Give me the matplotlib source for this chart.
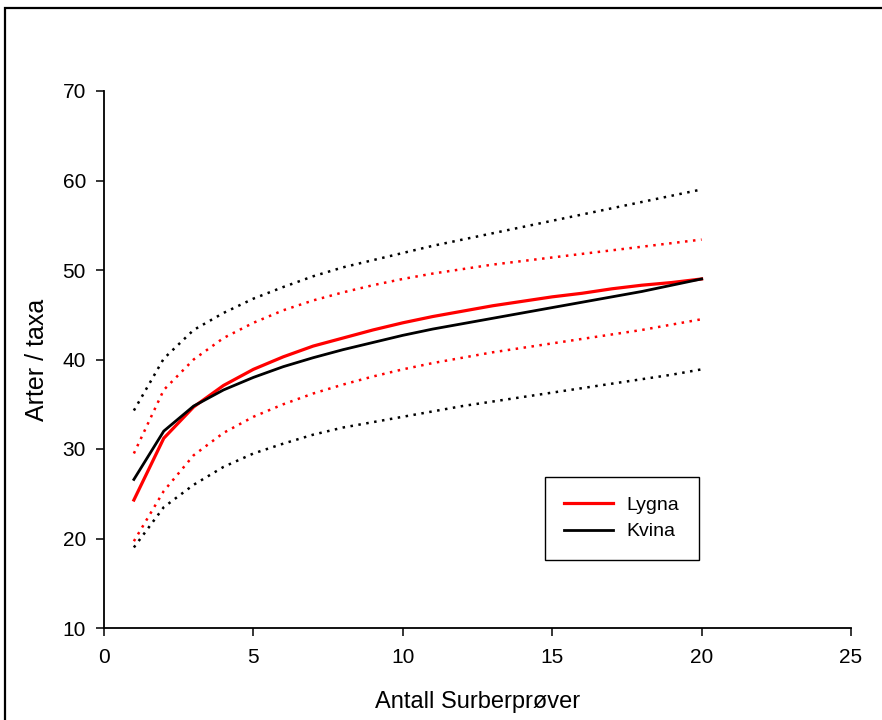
import matplotlib
matplotlib.use("Agg")
import matplotlib.pyplot as plt
from matplotlib.patches import Rectangle

plt.rcParams['font.family'] = ['Liberation Sans', 'DejaVu Sans']

samples = list(range(1, 21))

lygna = [24.3, 31.2, 34.7, 37.1, 38.9, 40.3, 41.5, 42.4, 43.3, 44.1,
         44.8, 45.4, 46.0, 46.5, 47.0, 47.4, 47.9, 48.3, 48.6, 49.0]
lygna_upper = [29.5, 36.6, 40.0, 42.4, 44.1, 45.5, 46.6, 47.5, 48.3, 49.0,
               49.6, 50.1, 50.6, 51.0, 51.4, 51.8, 52.2, 52.6, 53.0, 53.4]
lygna_lower = [19.7, 25.3, 29.3, 31.8, 33.6, 35.0, 36.2, 37.2, 38.1, 38.9,
               39.6, 40.2, 40.8, 41.3, 41.8, 42.3, 42.8, 43.3, 43.9, 44.5]

kvina = [26.6, 32.0, 34.8, 36.6, 38.0, 39.2, 40.2, 41.1, 41.9, 42.7,
         43.4, 44.0, 44.6, 45.2, 45.8, 46.4, 47.0, 47.6, 48.3, 49.0]
kvina_upper = [34.3, 40.1, 43.3, 45.2, 46.8, 48.1, 49.3, 50.3, 51.1, 51.9,
               52.7, 53.4, 54.1, 54.8, 55.5, 56.2, 56.9, 57.6, 58.3, 59.0]
kvina_lower = [19.0, 23.5, 26.0, 28.0, 29.5, 30.6, 31.6, 32.4, 33.0, 33.6,
               34.2, 34.8, 35.3, 35.8, 36.3, 36.8, 37.3, 37.8, 38.3, 38.9]

fig = plt.figure(figsize=(8.82, 7.2), dpi=100)
ax = fig.add_axes([104 / 882, 1 - 628 / 720, 747 / 882, 537 / 720])

dot = (0, (1, 2.2))
ax.plot(samples, kvina_upper, color='black', lw=1.8, ls=dot)
ax.plot(samples, kvina_lower, color='black', lw=1.8, ls=dot)
ax.plot(samples, lygna_upper, color='red', lw=1.8, ls=dot)
ax.plot(samples, lygna_lower, color='red', lw=1.8, ls=dot)
ax.plot(samples, lygna, color='red', lw=2.3, label='Lygna')
ax.plot(samples, kvina, color='black', lw=2.0, label='Kvina')

ax.set_xlim(0, 25)
ax.set_ylim(10, 70)
ax.set_xticks([0, 5, 10, 15, 20, 25])
ax.set_yticks([10, 20, 30, 40, 50, 60, 70])
ax.spines['top'].set_visible(False)
ax.spines['right'].set_visible(False)
ax.spines['left'].set_linewidth(1.3)
ax.spines['bottom'].set_linewidth(1.3)
ax.tick_params(direction='out', length=5.5, width=1.1, labelsize=15)
ax.tick_params(axis='x', pad=9)
ax.tick_params(axis='y', pad=7.5)

ax.set_xlabel('Antall Surberprøver', fontsize=17, labelpad=17)
ax.set_ylabel('Arter / taxa', fontsize=18, labelpad=10)

leg = ax.legend(loc='upper left', bbox_to_anchor=(545 / 882, 1 - 477 / 720),
                bbox_transform=fig.transFigure, fontsize=14, fancybox=False,
                framealpha=1, edgecolor='black', handlelength=2.5,
                borderpad=1.0, labelspacing=0.45, borderaxespad=0,
                handletextpad=0.7)
leg.get_frame().set_linewidth(1.0)

fig.patches.append(Rectangle((5 / 882, -0.1), 1.2, 1 - 8 / 720 + 0.1,
                             transform=fig.transFigure, fill=False,
                             edgecolor='black', lw=1.6, figure=fig))

fig.savefig('out.png', dpi=100)
